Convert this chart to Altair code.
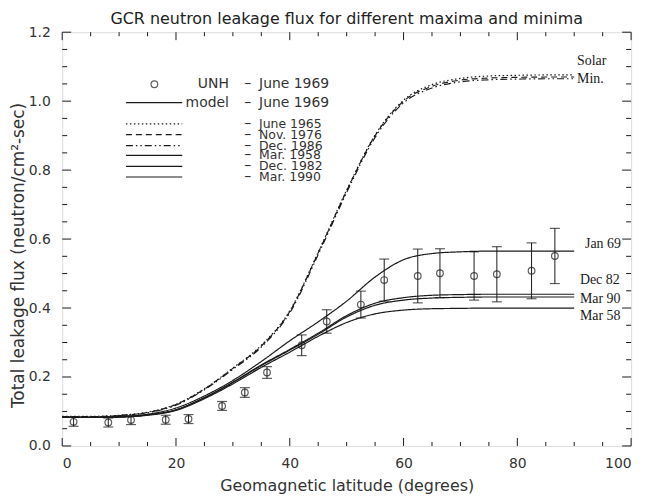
import altair as alt
import pandas as pd

# ---------------- data ----------------
lat = [0, 5, 10, 15, 20, 25, 30, 35, 40, 45, 50, 55, 60, 65, 70, 75, 80, 85, 90]
jan69 = [0.083, 0.083, 0.085, 0.092, 0.110, 0.145, 0.190, 0.245, 0.305, 0.360, 0.420, 0.490,
         0.540, 0.558, 0.563, 0.565, 0.565, 0.565, 0.565]
june1965 = [0.086, 0.086, 0.089, 0.098, 0.121, 0.166, 0.226, 0.292, 0.392, 0.562, 0.742, 0.902,
            1.003, 1.048, 1.066, 1.073, 1.075, 1.076, 1.076]
nov1976 = [0.085, 0.085, 0.088, 0.097, 0.120, 0.165, 0.225, 0.290, 0.390, 0.560, 0.740, 0.900,
           1.000, 1.043, 1.061, 1.067, 1.069, 1.070, 1.070]
dec1986 = [0.085, 0.085, 0.088, 0.096, 0.118, 0.163, 0.222, 0.287, 0.386, 0.555, 0.735, 0.895,
           0.995, 1.038, 1.056, 1.062, 1.064, 1.065, 1.065]
mar1958 = [0.083, 0.083, 0.084, 0.089, 0.103, 0.137, 0.180, 0.228, 0.272, 0.318, 0.358, 0.383,
           0.394, 0.398, 0.399, 0.400, 0.400, 0.400, 0.400]
dec1982 = [0.083, 0.083, 0.084, 0.090, 0.105, 0.140, 0.185, 0.235, 0.280, 0.327, 0.378, 0.414,
           0.430, 0.437, 0.439, 0.440, 0.440, 0.440, 0.440]
mar1990 = [0.083, 0.083, 0.084, 0.090, 0.105, 0.140, 0.184, 0.233, 0.278, 0.324, 0.374, 0.408,
           0.423, 0.429, 0.431, 0.432, 0.432, 0.432, 0.432]

unh_lat = [2.0, 8.1, 12.1, 18.2, 22.2, 28.1, 32.1, 36.0, 42.1, 46.5, 52.5, 56.6, 62.5, 66.4,
           72.4, 76.4, 82.5, 86.6]
unh_flux = [0.070, 0.068, 0.075, 0.076, 0.078, 0.116, 0.155, 0.213, 0.292, 0.361, 0.410, 0.481,
            0.493, 0.501, 0.493, 0.498, 0.508, 0.551]
unh_err = [0.013, 0.013, 0.013, 0.013, 0.013, 0.013, 0.014, 0.017, 0.030, 0.034, 0.039, 0.061,
           0.078, 0.071, 0.070, 0.080, 0.081, 0.080]

series_names = ["model - June 1969", "June 1965", "Nov. 1976", "Dec. 1986",
                "Mar. 1958", "Dec. 1982", "Mar. 1990"]
series_values = [jan69, june1965, nov1976, dec1986, mar1958, dec1982, mar1990]

x_major = [0, 20, 40, 60, 80, 100]
x_minor = [5, 10, 15, 25, 30, 35, 45, 50, 55, 65, 70, 75, 85, 90, 95]
y_major = [0.0, 0.2, 0.4, 0.6, 0.8, 1.0, 1.2]
y_minor = [0.05, 0.1, 0.15, 0.25, 0.3, 0.35, 0.45, 0.5, 0.55, 0.65, 0.7, 0.75,
           0.85, 0.9, 0.95, 1.05, 1.1, 1.15]

title_text = "GCR neutron leakage flux for different maxima and minima"
x_title = "Geomagnetic latitude (degrees)"
y_title = "Total leakage flux (neutron/cm\u00b2-sec)"

right_labels = ["Solar", "Min.", "Jan 69", "Dec 82", "Mar 90", "Mar 58"]
right_label_lat = [90.5, 90.5, 91.9, 91.0, 91.0, 91.0]
right_label_flux = [1.115, 1.065, 0.585, 0.480, 0.426, 0.376]

legend_line_series = ["model - June 1969", "June 1965", "Nov. 1976", "Dec. 1986",
                      "Mar. 1958", "Dec. 1982", "Mar. 1990"]
legend_row_flux = [0.996, 0.934, 0.903, 0.871, 0.843, 0.811, 0.780]
legend_labels = ["June 1969", "June 1965", "Nov. 1976", "Dec. 1986",
                 "Mar. 1958", "Dec. 1982", "Mar. 1990"]

# ---------------- style / layout ----------------
W, H = 572, 416
INK = "#1a1a1a"
TXT = "#333333"
SANS = "DejaVu Sans"
SERIF = "Liberation Serif"
dash_range = [[1, 0], [1.5, 2.5], [6, 4], [7, 3, 1.5, 3, 1.5, 3], [1, 0], [1, 0], [1, 0]]
width_range = [1.2, 1.2, 1.2, 1.2, 1.2, 1.2, 2.4]

xs = alt.Scale(domain=[0, 100], nice=False)
ys = alt.Scale(domain=[0, 1.2], nice=False)
dash_scale = alt.Scale(domain=series_names, range=dash_range)
wid_scale = alt.Scale(domain=series_names, range=width_range)

curves = pd.DataFrame(
    [{"series": s, "lat": x, "flux": v}
     for s, vals in zip(series_names, series_values) for x, v in zip(lat, vals)]
)
unh = pd.DataFrame({"lat": unh_lat, "flux": unh_flux, "err": unh_err})
unh["lo"] = unh["flux"] - unh["err"]
unh["hi"] = unh["flux"] + unh["err"]

x_enc = alt.X("lat:Q", scale=xs, axis=alt.Axis(
    values=x_major, format="d", ticks=False, tickSize=0, domain=False, grid=False,
    labelFont=SANS, labelFontSize=14, labelColor=TXT, labelPadding=11,
    title=x_title, titleFont=SANS, titleFontSize=16,
    titleFontWeight="normal", titleColor=TXT, titleY=45, titleBaseline="alphabetic"))
y_enc = alt.Y("flux:Q", scale=ys, axis=alt.Axis(
    values=y_major, format=".1f", ticks=False, tickSize=0, domain=False, grid=False,
    labelFont=SANS, labelFontSize=14, labelColor=TXT, labelPadding=12,
    title=y_title, titleFont=SANS, titleFontSize=17,
    titleFontWeight="normal", titleColor=TXT, titleX=-44, titleY=224,
    titleAngle=-90, titleAlign="center", titleBaseline="middle"))

lines = alt.Chart(curves).mark_line(color=INK, interpolate="monotone").encode(
    x=x_enc, y=y_enc,
    strokeDash=alt.StrokeDash("series:N", scale=dash_scale, legend=None),
    strokeWidth=alt.StrokeWidth("series:N", scale=wid_scale, legend=None),
    detail="series:N",
)

bars = alt.Chart(unh).mark_rule(color=INK, strokeWidth=1).encode(
    x=alt.X("lat:Q", scale=xs), y=alt.Y("lo:Q", scale=ys), y2="hi:Q")
cap_lo = alt.Chart(unh).mark_tick(color=INK, orient="horizontal", size=10, thickness=1.2).encode(
    x=alt.X("lat:Q", scale=xs), y=alt.Y("lo:Q", scale=ys))
cap_hi = alt.Chart(unh).mark_tick(color=INK, orient="horizontal", size=10, thickness=1.2).encode(
    x=alt.X("lat:Q", scale=xs), y=alt.Y("hi:Q", scale=ys))
pts = alt.Chart(unh).mark_point(shape="circle", filled=False, size=45, color=INK,
                                strokeWidth=1.2).encode(
    x=alt.X("lat:Q", scale=xs), y=alt.Y("flux:Q", scale=ys))

# ---------------- ticks on all four sides (inward) ----------------
def ticks_x(vals, length, top):
    df = pd.DataFrame({"v": vals})
    y1 = 0 if top else H
    y2 = length if top else H - length
    return alt.Chart(df).mark_rule(color=INK, strokeWidth=1).encode(
        x=alt.X("v:Q", scale=xs), y=alt.value(y1), y2=alt.value(y2))

def ticks_y(vals, length, right):
    df = pd.DataFrame({"v": vals})
    x1 = W if right else 0
    x2 = W - length if right else length
    return alt.Chart(df).mark_rule(color=INK, strokeWidth=1).encode(
        y=alt.Y("v:Q", scale=ys), x=alt.value(x1), x2=alt.value(x2))

tick_layers = [
    ticks_x(x_major, 8, False), ticks_x(x_minor, 4, False),
    ticks_x(x_major, 8, True), ticks_x(x_minor, 4, True),
    ticks_y(y_major, 9, False), ticks_y(y_minor, 5, False),
    ticks_y(y_major, 9, True), ticks_y(y_minor, 5, True),
]

# ---------------- title (text above the plot frame) ----------------
title_mark = alt.Chart(pd.DataFrame({"t": [title_text]})).mark_text(
    font=SANS, fontSize=16, align="center", baseline="middle", color="#222").encode(
    x=alt.value(W / 2), y=alt.value(-13), text="t:N")

# ---------------- right-hand labels ----------------
rl = pd.DataFrame({"t": right_labels, "lat": right_label_lat, "flux": right_label_flux})
right_text = alt.Chart(rl).mark_text(font=SERIF, fontSize=14, align="left",
                                     baseline="middle", color=INK).encode(
    x=alt.X("lat:Q", scale=xs), y=alt.Y("flux:Q", scale=ys), text="t:N")

# ---------------- in-plot legend ----------------
LEG_SYM_LAT = 16.2
LEG_LINE_LAT = (11.2, 21.1)
LEG_NAME_LAT = 29.3
LEG_DASH_LAT = 32.6
LEG_LABEL_LAT = 34.6
LEG_TOP_FLUX = 1.049

leg_sym = alt.Chart(pd.DataFrame({"lat": [LEG_SYM_LAT], "flux": [LEG_TOP_FLUX]})).mark_point(
    shape="circle", filled=False, size=45, color=INK, strokeWidth=1.2).encode(
    x=alt.X("lat:Q", scale=xs), y=alt.Y("flux:Q", scale=ys))

leg_lines_df = pd.DataFrame({"series": legend_line_series, "flux": legend_row_flux,
                             "a": LEG_LINE_LAT[0], "b": LEG_LINE_LAT[1]})
leg_lines = alt.Chart(leg_lines_df).mark_rule(color=INK).encode(
    x=alt.X("a:Q", scale=xs), x2="b:Q", y=alt.Y("flux:Q", scale=ys),
    strokeDash=alt.StrokeDash("series:N", scale=dash_scale, legend=None),
    strokeWidth=alt.StrokeWidth("series:N", scale=wid_scale, legend=None))

names_df = pd.DataFrame({"t": ["UNH", "model"], "flux": [LEG_TOP_FLUX, legend_row_flux[0]],
                         "lat": LEG_NAME_LAT})
leg_names = alt.Chart(names_df).mark_text(font=SANS, fontSize=14, align="right",
                                          baseline="middle", color=TXT).encode(
    x=alt.X("lat:Q", scale=xs), y=alt.Y("flux:Q", scale=ys), text="t:N")

dash_df = pd.DataFrame({"t": "\u2013", "flux": [LEG_TOP_FLUX] + legend_row_flux,
                        "lat": LEG_DASH_LAT})
leg_dash = alt.Chart(dash_df).mark_text(font=SANS, fontSize=14, align="center",
                                        baseline="middle", color=TXT).encode(
    x=alt.X("lat:Q", scale=xs), y=alt.Y("flux:Q", scale=ys), text="t:N")

lab_df = pd.DataFrame({"t": ["June 1969"] + legend_labels,
                       "flux": [LEG_TOP_FLUX] + legend_row_flux, "lat": LEG_LABEL_LAT})
leg_labs_top = alt.Chart(lab_df.iloc[:2]).mark_text(
    font=SANS, fontSize=14, align="left", baseline="middle", color=TXT).encode(
    x=alt.X("lat:Q", scale=xs), y=alt.Y("flux:Q", scale=ys), text="t:N")
leg_labs_rest = alt.Chart(lab_df.iloc[2:]).mark_text(
    font=SANS, fontSize=12.5, align="left", baseline="middle", color=TXT).encode(
    x=alt.X("lat:Q", scale=xs), y=alt.Y("flux:Q", scale=ys), text="t:N")

chart = alt.layer(
    lines, bars, cap_lo, cap_hi, pts, *tick_layers, right_text, title_mark,
    leg_sym, leg_lines, leg_names, leg_dash, leg_labs_top, leg_labs_rest,
).properties(
    width=W, height=H,
    autosize=alt.AutoSizeParams(type="none"),
    padding={"left": 54.5, "top": 23, "right": 20, "bottom": 50},
).configure_view(stroke=INK, strokeWidth=1.2).configure(background="white")

chart.save("out.html", embed_options={"renderer": "svg", "actions": False})
